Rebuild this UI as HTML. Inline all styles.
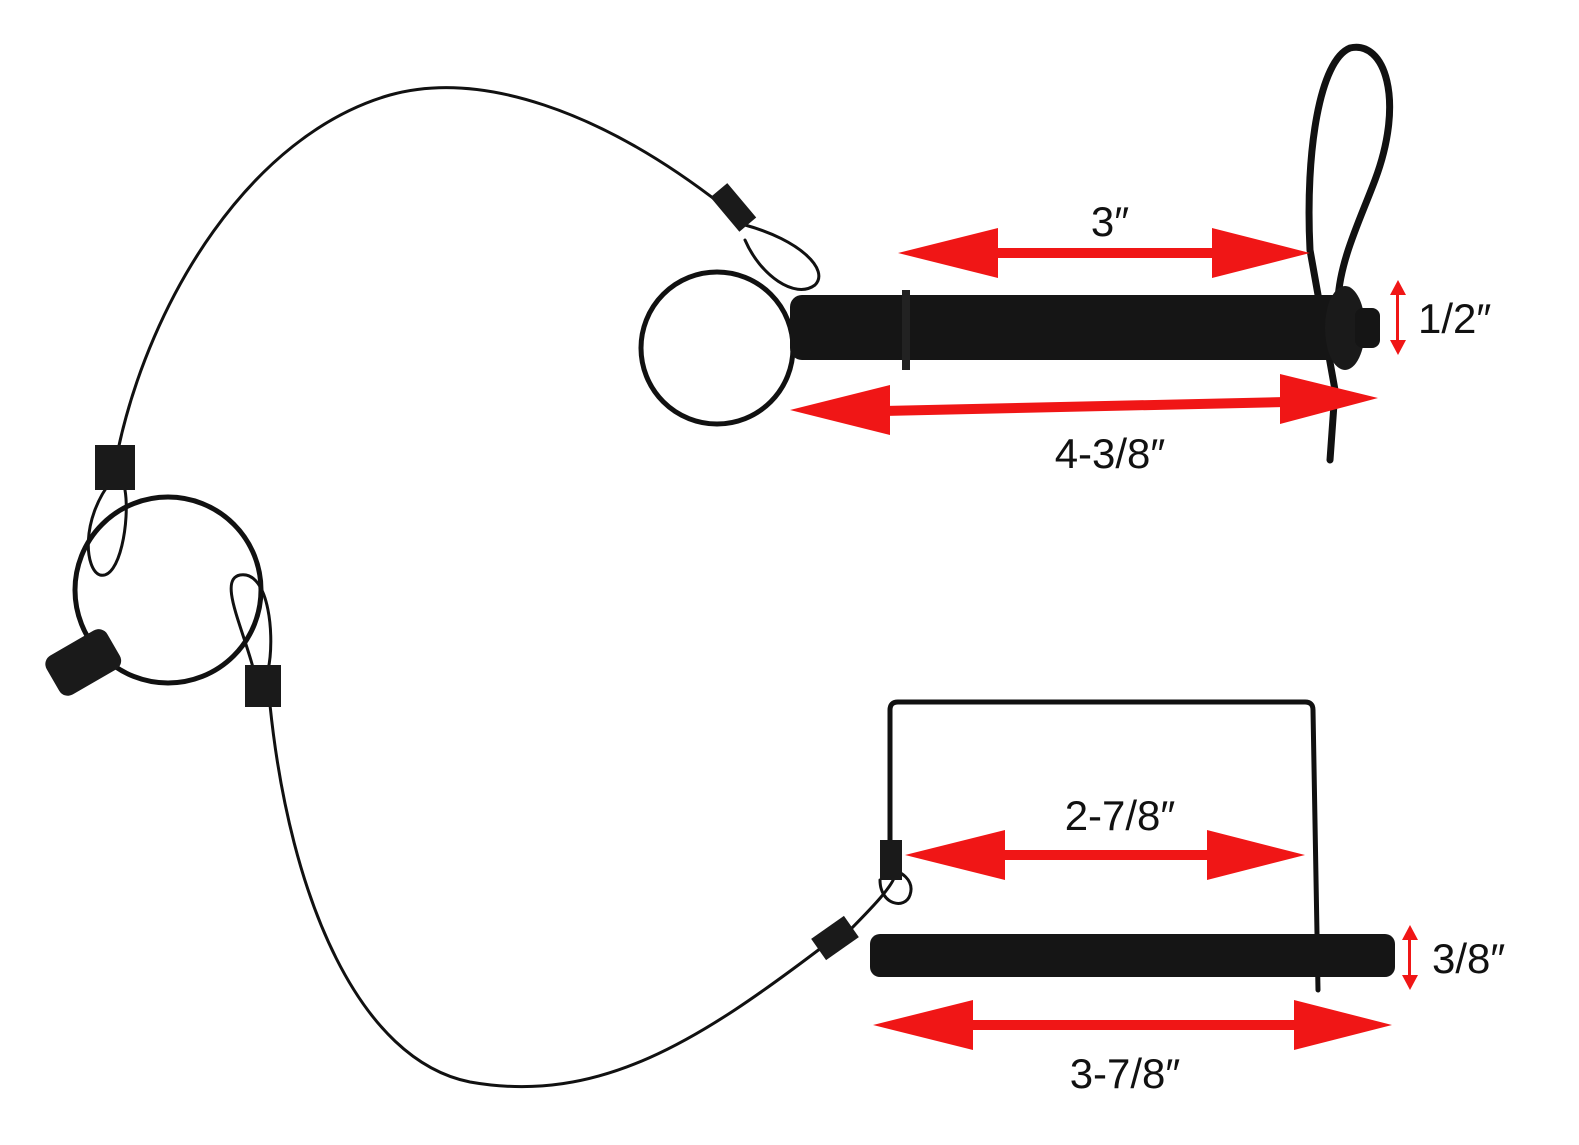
<!DOCTYPE html>
<html><head><meta charset="utf-8"><style>
html,body{margin:0;padding:0;background:#fff;}
svg{display:block;}
text{font-family:"Liberation Sans",sans-serif;fill:#111;}
</style></head><body>
<svg width="1579" height="1145" viewBox="0 0 1579 1145" xmlns="http://www.w3.org/2000/svg">
<g fill="none" stroke="#111" stroke-linecap="round">
<path d="M722,205 C600,110 480,70 390,95 C250,135 150,300 118,450" stroke-width="3"/>
<path d="M745,225 C800,240 830,270 815,285 C795,300 760,275 745,240" stroke-width="3"/>
<circle cx="717" cy="348" r="76" stroke-width="5"/>
<circle cx="168" cy="590" r="93" stroke-width="5"/>
<path d="M112,480 C80,520 85,570 100,575 C120,580 130,520 125,490" stroke-width="3"/>
<path d="M258,690 C250,640 215,580 240,575 C270,570 275,640 268,670" stroke-width="3"/>
<path d="M270,705 C290,900 360,1060 470,1082 C600,1105 700,1040 825,945" stroke-width="3"/>
<path d="M840,940 C870,910 900,880 895,870" stroke-width="3"/>
<path d="M880,880 C880,905 905,910 910,895 C915,880 900,870 890,870" stroke-width="3"/>
<path d="M1330,460 L1335,390 L1310,250 C1305,150 1320,60 1350,48 C1385,40 1405,100 1375,180 C1360,220 1340,260 1338,300" stroke-width="7"/>
<path d="M890,870 L890,710 Q890,702 898,702 L1305,702 Q1313,702 1313,710 L1318,990" stroke-width="5"/>
</g>
<g fill="#1a1a1a">
<rect x="722" y="185" width="22" height="45" transform="rotate(-40 733 207)"/>
<rect x="95" y="445" width="40" height="45"/>
<rect x="245" y="665" width="36" height="42"/>
<rect x="880" y="840" width="22" height="40"/>
<rect x="815" y="925" width="40" height="26" transform="rotate(-35 835 938)"/>
<rect x="48" y="640" width="70" height="45" rx="10" transform="rotate(-30 83 662)"/>
</g>
<rect x="790" y="295" width="560" height="65" rx="12" fill="#151515"/>
<rect x="902" y="290" width="8" height="80" fill="#222"/>
<ellipse cx="1345" cy="328" rx="20" ry="42" fill="#1a1a1a"/>
<rect x="1355" y="308" width="25" height="40" rx="8" fill="#151515"/>
<rect x="870" y="934" width="525" height="43" rx="10" fill="#151515"/>
<g fill="#f01616">
<rect x="990" y="248" width="230" height="10"/>
<polygon points="898,253 998,228 998,278"/>
<polygon points="1310,253 1212,228 1212,278"/>
<polygon points="885,406 1285,397 1285,407 885,416"/>
<polygon points="790,410 890,385 890,435"/>
<polygon points="1378,398 1280,374 1280,424"/>
<rect x="1000" y="850" width="215" height="10"/>
<polygon points="905,855 1005,830 1005,880"/>
<polygon points="1305,855 1207,830 1207,880"/>
<rect x="965" y="1020" width="335" height="10"/>
<polygon points="873,1025 973,1000 973,1050"/>
<polygon points="1392,1025 1294,1000 1294,1050"/>
<rect x="1396" y="292" width="3" height="50"/>
<polygon points="1398,280 1390,295 1406,295"/>
<polygon points="1398,355 1390,340 1406,340"/>
<rect x="1408" y="935" width="3" height="45"/>
<polygon points="1410,925 1402,940 1418,940"/>
<polygon points="1410,990 1402,975 1418,975"/>
</g>
<g font-size="42">
<text x="1110" y="236" text-anchor="middle">3″</text>
<text x="1418" y="333">1/2″</text>
<text x="1110" y="468" text-anchor="middle">4-3/8″</text>
<text x="1120" y="830" text-anchor="middle">2-7/8″</text>
<text x="1432" y="973">3/8″</text>
<text x="1125" y="1088" text-anchor="middle">3-7/8″</text>
</g>
</svg>
</body></html>
